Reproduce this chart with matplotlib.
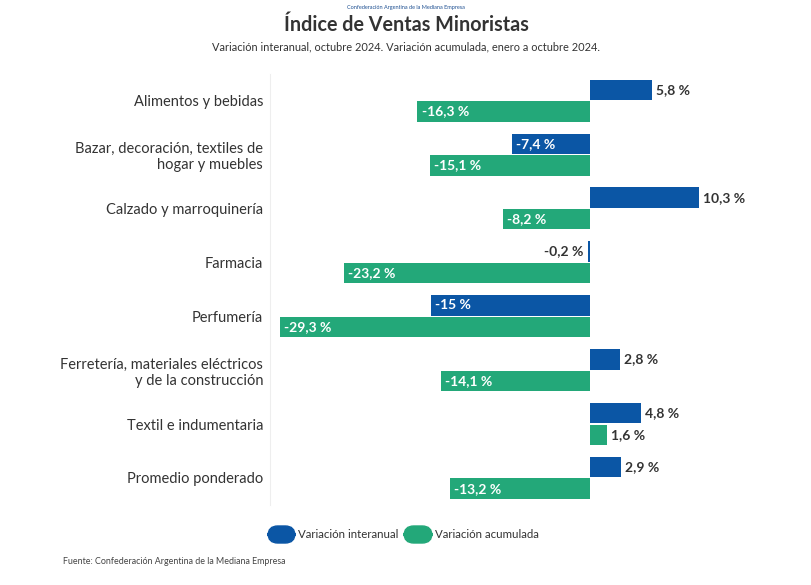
import numpy as np
import matplotlib.pyplot as plt
from matplotlib.patches import FancyBboxPatch

plt.rcParams['font.family'] = ['Lato', 'DejaVu Sans']

# Data
categories = ["Alimentos y bebidas",
              "Bazar, decoración, textiles de\nhogar y muebles",
              "Calzado y marroquinería",
              "Farmacia",
              "Perfumería",
              "Ferretería, materiales eléctricos\ny de la construcción",
              "Textil e indumentaria",
              "Promedio ponderado"]
interanual = [5.8, -7.4, 10.3, -0.2, -15.0, 2.8, 4.8, 2.9]
acumulada = [-16.3, -15.1, -8.2, -23.2, -29.3, -14.1, 1.6, -13.2]
series_names = ["Variación interanual", "Variación acumulada"]

blue = "#0b56a5"
green = "#23a879"
dark = "#333333"

def fmt(v):
    s = ("%.1f" % v).replace(".", ",")
    if s.endswith(",0"):
        s = s[:-2]
    return s + " %"

fig = plt.figure(figsize=(8.12, 5.85), dpi=100)
ax = fig.add_axes([0.3325, 0.137, 0.603, 0.737])

y = np.arange(len(categories))
h = 0.38
off = 0.2
ax.barh(y - off, interanual, height=h, color=blue)
ax.barh(y + off, acumulada, height=h, color=green)

for vals, yy in ((interanual, y - off), (acumulada, y + off)):
    for v, yi in zip(vals, yy):
        if v >= 0:
            ax.text(v + 0.4, yi, fmt(v), ha="left", va="center", fontsize=10,
                    fontweight="bold", color=dark)
        elif v > -3:
            ax.text(v - 0.4, yi, fmt(v), ha="right", va="center", fontsize=10,
                    fontweight="bold", color=dark)
        else:
            ax.text(v + 0.4, yi, fmt(v), ha="left", va="center", fontsize=10,
                    fontweight="bold", color="white")

ax.set_xlim(-30.2, 16.0)
ax.set_ylim(len(categories) - 0.5, -0.5)
ax.set_yticks(y)
ax.set_yticklabels(categories, fontsize=10.5, color=dark)
ax.set_xticks([])
ax.tick_params(axis="y", length=0, pad=5)
for s in ["top", "right", "bottom"]:
    ax.spines[s].set_visible(False)
ax.spines["left"].set_color("#eeeeee")

fig.text(0.5, 0.992, "Confederación Argentina de la Mediana Empresa", ha="center",
         va="top", fontsize=4, color="#1d4f91")
fig.text(0.5, 0.957, "Índice de Ventas Minoristas", ha="center", va="center",
         fontsize=14.2, fontweight="bold", color=dark)
fig.text(0.5, 0.919, "Variación interanual, octubre 2024. Variación acumulada, enero a octubre 2024.",
         ha="center", va="center", fontsize=7.9, color=dark)

# legend
for x0, w, col, name in ((268, 27, blue, series_names[0]), (404, 28, green, series_names[1])):
    p = FancyBboxPatch((x0 / 812, 1 - 543 / 585), w / 812, 17 / 585,
                       boxstyle="round,pad=0,rounding_size=0.012",
                       transform=fig.transFigure, color=col, mutation_aspect=812 / 585)
    fig.patches.append(p)
    fig.text((x0 + w + 3) / 812, 1 - 534 / 585, name, ha="left", va="center",
             fontsize=8.3, color=dark)

fig.text(63 / 812, 1 - 562 / 585, "Fuente: Confederación Argentina de la Mediana Empresa",
         ha="left", va="center", fontsize=6.4, color="#444444")

fig.savefig("out.png", dpi=100, facecolor="white")
